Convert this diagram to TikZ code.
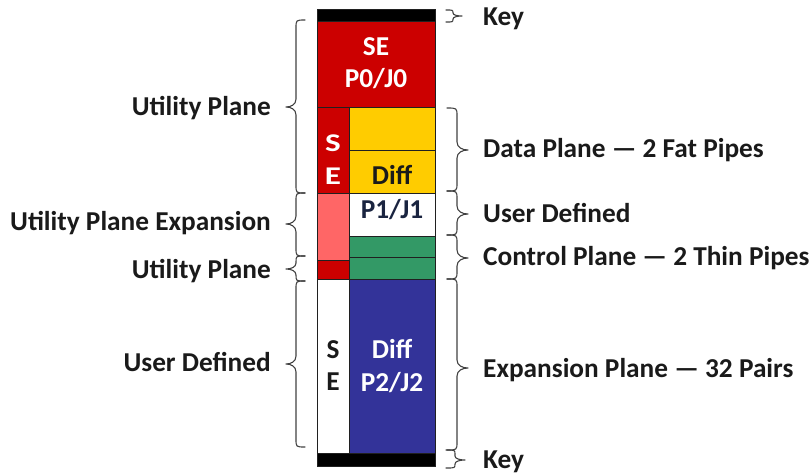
\documentclass[tikz,border=0pt]{standalone}
\usepackage{fontspec}
\setmainfont{Carlito}
\newfontfamily\widefont[FakeStretch=1.3]{Carlito}
\definecolor{cRed}{HTML}{CC0000}
\definecolor{cYellow}{HTML}{FFCC00}
\definecolor{cPink}{HTML}{FF6666}
\definecolor{cGreen}{HTML}{339966}
\definecolor{cBlue}{HTML}{333399}
\definecolor{cText}{HTML}{1A1A1A}
\definecolor{cNavy}{HTML}{1A2440}
\definecolor{cBrace}{HTML}{404040}
\definecolor{cEdge}{HTML}{202020}
% curly brace: hook x, spine x, tip x, top y, tip y, bottom y, bend
\newcommand\curlybrace[7]{%
  \draw[bracestyle] (#1,#4) .. controls (#2,#4) .. (#2,#4+#7)
    -- (#2,#5-#7) .. controls (#2,#5-0.3*#7) and ({0.5*(#2+#3)},#5) .. (#3,#5)
    .. controls ({0.5*(#2+#3)},#5) and (#2,#5+0.3*#7) .. (#2,#5+#7)
    -- (#2,#6-#7) .. controls (#2,#6) .. (#1,#6);}
\tikzset{
  cell/.style={draw=cEdge, line width=0.9pt},
  lbl/.style={font=\bfseries\fontsize{27.3}{32}\selectfont, text=cText, inner sep=0pt},
  inlbl/.style={font=\bfseries\fontsize{27.3}{32}\selectfont, inner sep=0pt, anchor=base},
  bracestyle/.style={draw=cBrace, line width=1.1pt, line join=round, line cap=round},
}
\begin{document}
\begin{tikzpicture}[x=1pt, y=-1pt]
\useasboundingbox (0,0) rectangle (809,474);

% column cells
\draw[cell, fill=black]   (317,9)   rectangle (435,21);
\draw[cell, fill=cRed]    (317,21)  rectangle (435,107);
\draw[cell, fill=cRed]    (317,107) rectangle (349,193);
\draw[cell, fill=cYellow] (349,107) rectangle (435,150);
\draw[cell, fill=cYellow] (349,150) rectangle (435,193);
\draw[cell, fill=cPink]   (317,193) rectangle (349,260);
\draw[cell, fill=white]   (349,193) rectangle (435,236);
\draw[cell, fill=cGreen]  (349,236) rectangle (435,257);
\draw[cell, fill=cGreen]  (349,257) rectangle (435,279);
\draw[cell, fill=cRed]    (317,260) rectangle (349,279);
\draw[cell, fill=white]   (317,279) rectangle (349,453);
\draw[cell, fill=cBlue]   (349,279) rectangle (435,453);
\draw[cell, fill=black]   (317,453) rectangle (435,466);

% texts inside the column
\node[inlbl, text=white] (se0) at (376,55) {SE};
\node[inlbl, text=white] (p0)  at (376,87) {P0/J0};
\node[inlbl, text=white, font=\widefont\bfseries\fontsize{25.5}{30}\selectfont] (s1) at (333,151) {S};
\node[inlbl, text=white, font=\widefont\bfseries\fontsize{25.5}{30}\selectfont] (e1) at (333,184) {E};
\node[inlbl, text=cText] (diff1) at (392,184) {Diff};
\node[inlbl, text=cNavy] (p1) at (392,218) {P1/J1};
\node[inlbl, text=cText] (s2) at (333,358) {S};
\node[inlbl, text=cText] (e2) at (333,390) {E};
\node[inlbl, text=white] (diff2) at (392,358) {Diff};
\node[inlbl, text=white] (p2) at (392,391) {P2/J2};

% left braces
\curlybrace{305}{296}{286}{20}{107}{193}{8}
\curlybrace{305}{296}{286}{193}{224}{256}{8}
\curlybrace{305}{296}{286}{256}{269}{281}{6}
\curlybrace{305}{296}{286}{281}{364}{447}{8}

% right braces
\curlybrace{446}{453}{462}{10}{16}{22}{3}
\curlybrace{447}{457}{468}{108}{150}{191}{8}
\curlybrace{447}{457}{468}{191}{214}{235}{8}
\curlybrace{447}{457}{468}{235}{258}{279}{8}
\curlybrace{447}{457}{468}{279}{368}{450}{8}
\curlybrace{446}{455}{465}{450}{460}{468}{4}

% left labels
\node[lbl, anchor=base east] (lUtil1) at (271,115) {Utility Plane};
\node[lbl, anchor=base east] (lUtilX) at (271,230) {Utility Plane Expansion};
\node[lbl, anchor=base east] (lUtil2) at (271,278) {Utility Plane};
\node[lbl, anchor=base east] (lUser)  at (271,371) {User Defined};

% right labels
\node[lbl, anchor=base west] (rKey1) at (483,25)  {Key};
\node[lbl, anchor=base west] (rData) at (483,157) {Data Plane — 2 Fat Pipes};
\node[lbl, anchor=base west] (rUser) at (483,222) {User Defined};
\node[lbl, anchor=base west] (rCtrl) at (483,265) {Control Plane — 2 Thin Pipes};
\node[lbl, anchor=base west] (rExp)  at (483,377) {Expansion Plane — 32 Pairs};
\node[lbl, anchor=base west] (rKey2) at (483,468) {Key};
\end{tikzpicture}
\end{document}
